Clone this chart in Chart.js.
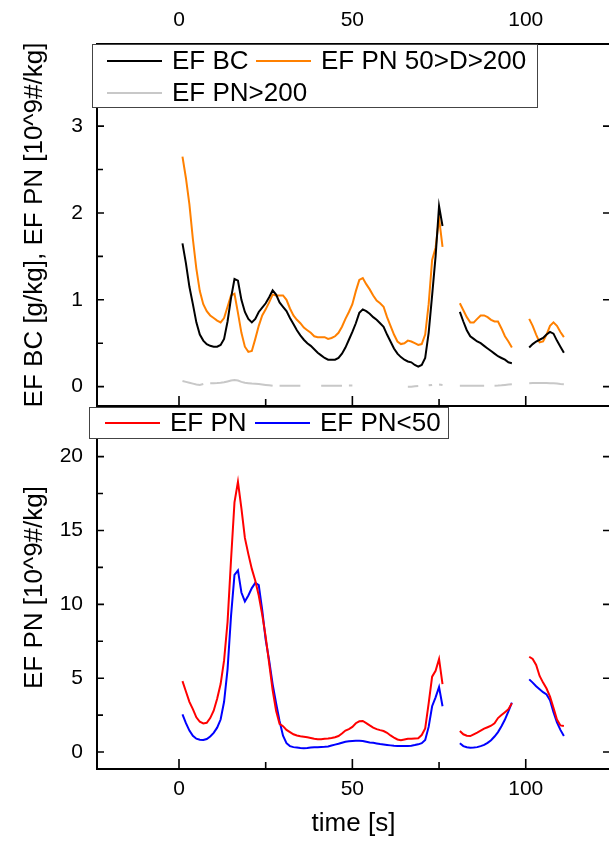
<!DOCTYPE html>
<html>
<head>
<meta charset="utf-8">
<script src="https://cdn.jsdelivr.net/npm/chart.js@4.4.1/dist/chart.umd.min.js"></script>
<style>
html, body { margin: 0; padding: 0; background: #fff; overflow: hidden; }
#wrap { position: relative; width: 609px; height: 843px; overflow: hidden; background: #fff; }
#wrap canvas { position: absolute; left: 0; }
#topChart { top: 0; }
#botChart { top: 396px; }
</style>
</head>
<body>
<div id="wrap">
  <canvas id="topChart" width="612" height="410"></canvas>
  <canvas id="botChart" width="612" height="447"></canvas>
</div>
<script>
// time in seconds, 78 and 98 are the gaps between measuring runs
const time = [
  1, 2, 3, 4, 5, 6, 7, 8, 9, 10, 11, 12, 13, 14, 15, 16, 17, 18, 19, 20,
  21, 22, 23, 24, 25, 26, 27, 28, 29, 30, 31, 32, 33, 34, 35, 36, 37, 38, 39, 40,
  41, 42, 43, 44, 45, 46, 47, 48, 49, 50, 51, 52, 53, 54, 55, 56, 57, 58, 59, 60,
  61, 62, 63, 64, 65, 66, 67, 68, 69, 70, 71, 72, 73, 74, 75, 76,
  78,
  81, 82, 83, 84, 85, 86, 87, 88, 89, 90, 91, 92, 93, 94, 95, 96,
  98,
  101, 102, 103, 104, 105, 106, 107, 108, 109, 110, 111
];

// top panel [g/kg] and [10^9#/kg]
const efBC = [
  1.65, 1.42, 1.15, 0.95, 0.74, 0.60, 0.53, 0.49, 0.47, 0.46, 0.46, 0.48, 0.55, 0.75, 1.02, 1.24, 1.22, 1.00, 0.86, 0.78,
  0.74, 0.78, 0.86, 0.91, 0.96, 1.03, 1.11, 1.06, 0.97, 0.92, 0.87, 0.79, 0.72, 0.65, 0.59, 0.54, 0.50, 0.47, 0.43, 0.39,
  0.36, 0.33, 0.31, 0.31, 0.31, 0.33, 0.38, 0.45, 0.54, 0.63, 0.73, 0.85, 0.89, 0.87, 0.84, 0.80, 0.77, 0.73, 0.69, 0.60,
  0.52, 0.44, 0.38, 0.34, 0.31, 0.29, 0.28, 0.25, 0.23, 0.25, 0.33, 0.62, 1.05, 1.50, 2.08, 1.85,
  null,
  0.86, 0.75, 0.65, 0.58, 0.55, 0.52, 0.50, 0.47, 0.44, 0.41, 0.38, 0.35, 0.33, 0.31, 0.28, 0.27,
  null,
  0.45, 0.49, 0.52, 0.54, 0.56, 0.60, 0.63, 0.61, 0.53, 0.46, 0.39
];
const efPN50to200 = [
  2.65, 2.40, 2.10, 1.70, 1.36, 1.10, 0.95, 0.87, 0.82, 0.79, 0.76, 0.74, 0.79, 0.92, 1.05, 1.07, 0.85, 0.62, 0.46, 0.40,
  0.41, 0.55, 0.70, 0.82, 0.89, 0.97, 1.06, 1.05, 1.05, 1.05, 1.00, 0.90, 0.82, 0.77, 0.73, 0.68, 0.65, 0.62, 0.58, 0.57,
  0.57, 0.57, 0.55, 0.56, 0.58, 0.62, 0.69, 0.78, 0.86, 0.95, 1.10, 1.23, 1.25, 1.18, 1.12, 1.05, 0.99, 0.96, 0.92, 0.80,
  0.70, 0.60, 0.52, 0.49, 0.50, 0.53, 0.52, 0.50, 0.48, 0.49, 0.60, 0.95, 1.46, 1.60, 1.94, 1.61,
  null,
  0.96, 0.88, 0.80, 0.74, 0.74, 0.78, 0.82, 0.82, 0.80, 0.77, 0.75, 0.75, 0.67, 0.58, 0.52, 0.45,
  null,
  0.78, 0.70, 0.60, 0.51, 0.52, 0.60, 0.70, 0.74, 0.70, 0.63, 0.57
];
const efPN200 = [
  0.065, 0.055, 0.045, 0.035, 0.025, 0.020, 0.030, null, 0.040, 0.040, 0.042, 0.045, 0.050, 0.060, 0.070, 0.077, 0.070, 0.055, 0.045, 0.040,
  0.035, 0.033, 0.030, 0.025, 0.020, 0.015, 0.010, null, 0.010, 0.010, 0.010, 0.010, 0.010, 0.010, 0.010, null, null, null, null, null,
  0.010, 0.010, 0.010, 0.010, 0.010, 0.010, 0.010, null, 0.012, 0.012, null, null, null, null, null, null, null, null, null, null,
  null, null, null, null, null, 0.000, 0.000, 0.005, 0.008, null, null, 0.015, 0.020, null, 0.025, 0.020,
  null,
  0.010, 0.010, 0.010, 0.010, 0.010, 0.010, 0.010, 0.010, null, null, 0.010, 0.012, 0.015, 0.020, 0.025, 0.028,
  null,
  0.040, 0.042, 0.042, 0.042, 0.042, 0.042, 0.040, 0.038, 0.035, 0.030, 0.027
];

// bottom panel [10^9#/kg]
const efPN = [
  4.80, 4.10, 3.40, 2.90, 2.35, 2.05, 1.94, 1.98, 2.30, 2.80, 3.60, 4.60, 6.20, 8.80, 13.0, 16.9, 18.3, 16.5, 14.5, 13.4,
  12.4, 11.6, 10.6, 9.30, 7.80, 6.00, 4.20, 2.80, 1.90, 1.75, 1.50, 1.35, 1.20, 1.12, 1.07, 1.04, 1.00, 0.95, 0.90, 0.86,
  0.87, 0.90, 0.92, 0.95, 1.00, 1.08, 1.25, 1.45, 1.55, 1.70, 1.95, 2.08, 2.10, 1.96, 1.80, 1.65, 1.55, 1.48, 1.42, 1.30,
  1.12, 0.98, 0.85, 0.80, 0.85, 0.90, 0.90, 0.92, 0.93, 1.15, 1.60, 3.30, 5.10, 5.50, 6.30, 4.60,
  null,
  1.42, 1.20, 1.10, 1.08, 1.20, 1.32, 1.45, 1.58, 1.68, 1.78, 1.95, 2.30, 2.50, 2.70, 2.90, 3.30,
  null,
  6.45, 6.30, 5.90, 5.15, 4.70, 4.30, 3.75, 3.00, 2.20, 1.80, 1.76
];
const efPN50 = [
  2.55, 1.95, 1.45, 1.10, 0.90, 0.83, 0.81, 0.88, 1.05, 1.30, 1.65, 2.20, 3.40, 5.60, 9.20, 12.0, 12.3, 10.8, 10.2, 10.6,
  11.1, 11.45, 11.3, 9.60, 7.60, 6.20, 4.60, 3.30, 2.10, 1.10, 0.60, 0.40, 0.33, 0.30, 0.27, 0.25, 0.27, 0.30, 0.32, 0.33,
  0.34, 0.35, 0.38, 0.44, 0.50, 0.56, 0.63, 0.70, 0.73, 0.75, 0.76, 0.77, 0.75, 0.70, 0.65, 0.62, 0.58, 0.54, 0.51, 0.48,
  0.45, 0.42, 0.41, 0.41, 0.41, 0.41, 0.43, 0.47, 0.52, 0.60, 0.81, 1.70, 3.10, 3.70, 4.40, 3.10,
  null,
  0.59, 0.40, 0.32, 0.29, 0.30, 0.33, 0.40, 0.48, 0.62, 0.80, 1.05, 1.35, 1.75, 2.20, 2.75, 3.34,
  null,
  4.92, 4.70, 4.45, 4.25, 4.05, 3.90, 3.50, 2.70, 2.00, 1.50, 1.08
];

const xMajor = [0, 50, 100];
const xMinor = [25, 75];
const yTopMajor = [0, 1, 2, 3];
const yTopMinor = [0.5, 1.5, 2.5];
const yBotMajor = [0, 5, 10, 15, 20];
const yBotMinor = [2.5, 7.5, 12.5, 17.5];

const FONT = '"Liberation Sans", Arial, sans-serif';

const pts = vals => time.map((t, i) => ({x: t, y: vals[i]}));

// axis box with inward ticks, Origin style
const framePlugin = {
  id: 'frame',
  afterDatasetsDraw(chart, args, o) {
    const {ctx, chartArea: a, scales: {x, y}} = chart;
    ctx.save();
    ctx.strokeStyle = '#000';
    ctx.lineWidth = 2;
    ctx.strokeRect(a.left, a.top, a.right - a.left, a.bottom - a.top);
    ctx.lineWidth = 1.6;
    ctx.beginPath();
    o.xMajor.forEach(v => { const p = x.getPixelForValue(v); ctx.moveTo(p, a.bottom); ctx.lineTo(p, a.bottom - 10); });
    o.xMinor.forEach(v => { const p = x.getPixelForValue(v); ctx.moveTo(p, a.bottom); ctx.lineTo(p, a.bottom - 7); });
    o.yMajor.forEach(v => {
      const p = y.getPixelForValue(v);
      ctx.moveTo(a.left, p); ctx.lineTo(a.left + 7, p);
      ctx.moveTo(a.right, p); ctx.lineTo(a.right - 7, p);
    });
    o.yMinor.forEach(v => { const p = y.getPixelForValue(v); ctx.moveTo(a.left, p); ctx.lineTo(a.left + 6, p); });
    ctx.stroke();
    ctx.restore();
  }
};

const legendBox = {
  id: 'legendBox',
  afterDraw(chart, args, o) {
    const ctx = chart.ctx;
    ctx.save();
    ctx.fillStyle = '#fff';
    ctx.fillRect(o.x, o.y, o.w, o.h);
    ctx.strokeStyle = '#444';
    ctx.lineWidth = 1;
    ctx.strokeRect(o.x + 0.5, o.y + 0.5, o.w, o.h);
    ctx.font = '26px ' + FONT;
    ctx.textBaseline = 'middle';
    o.items.forEach((it, i) => {
      const ds = chart.data.datasets[i];
      ctx.strokeStyle = ds.borderColor;
      ctx.lineWidth = 2;
      ctx.beginPath();
      ctx.moveTo(it[0], it[1]);
      ctx.lineTo(it[0] + 55, it[1]);
      ctx.stroke();
      ctx.fillStyle = '#000';
      ctx.fillText(ds.label, it[0] + 65, it[1] + 1);
    });
    ctx.restore();
  }
};

const tickFont = {family: FONT, size: 21};
const titleFont = {family: FONT, size: 26};
const yTitleFont = {family: FONT, size: 26};

// fixed axis width, no extra room for the edge labels
const fixY = s => { s.width = 97; s.paddingTop = 0; s.paddingBottom = 0; };

function baseOptions() {
  return {
    responsive: false,
    animation: false,
    devicePixelRatio: 1,
    elements: {point: {radius: 0}, line: {borderWidth: 2, tension: 0}},
    datasets: {line: {spanGaps: false}},
    events: []
  };
}

const topOpts = baseOptions();
topOpts.layout = {padding: {left: 0, right: 2, top: 0, bottom: 4}};
topOpts.plugins = {
  legend: {display: false},
  tooltip: {enabled: false},
  frame: {xMajor, xMinor, yMajor: yTopMajor, yMinor: yTopMinor},
  legendBox: {x: 92, y: 44, w: 445, h: 63, items: [[107, 61], [256, 61], [107, 93]]}
};
topOpts.scales = {
  x: {
    type: 'linear', position: 'top', min: -23.65, max: 124.3,
    grid: {display: false, drawTicks: false}, border: {display: false},
    afterBuildTicks: s => { s.ticks = xMajor.map(v => ({value: v})); },
    afterFit: s => { s.height = 44; s.paddingLeft = 0; s.paddingRight = 0; },
    ticks: {padding: 11, font: tickFont, color: '#000', maxRotation: 0}
  },
  y: {
    type: 'linear', min: -0.223, max: 3.946,
    grid: {display: false, drawTicks: false}, border: {display: false},
    afterBuildTicks: s => { s.ticks = yTopMajor.map(v => ({value: v})); },
    afterFit: fixY,
    ticks: {padding: 14, font: tickFont, color: '#000'},
    title: {display: true, text: 'EF BC [g/kg], EF PN [10^9#/kg]', font: yTitleFont, color: '#000', padding: {top: 19, bottom: 0}}
  }
};

new Chart(document.getElementById('topChart'), {
  type: 'line',
  data: {
    datasets: [
      {label: 'EF BC', data: pts(efBC), borderColor: '#000000'},
      {label: 'EF PN 50>D>200', data: pts(efPN50to200), borderColor: '#FF8000'},
      {label: 'EF PN>200', data: pts(efPN200), borderColor: '#C8C8C8'}
    ]
  },
  options: topOpts,
  plugins: [framePlugin, legendBox]
});

const botOpts = baseOptions();
botOpts.layout = {padding: {left: 0, right: 2, top: 10, bottom: 0}};
botOpts.plugins = {
  legend: {display: false},
  tooltip: {enabled: false},
  frame: {xMajor, xMinor, yMajor: yBotMajor, yMinor: yBotMinor},
  legendBox: {x: 89, y: 11, w: 359, h: 31, items: [[105, 27], [255, 27]]}
};
botOpts.scales = {
  x: {
    type: 'linear', position: 'bottom', min: -23.65, max: 124.3,
    grid: {display: false, drawTicks: false}, border: {display: false},
    afterBuildTicks: s => { s.ticks = xMajor.map(v => ({value: v})); },
    afterFit: s => { s.height = 74; s.paddingLeft = 0; s.paddingRight = 0; },
    ticks: {padding: 8, font: tickFont, color: '#000', maxRotation: 0},
    title: {display: true, text: 'time [s]', font: titleFont, color: '#000', padding: {top: 0, bottom: 4}}
  },
  y: {
    type: 'linear', min: -1.15, max: 23.43,
    grid: {display: false, drawTicks: false}, border: {display: false},
    afterBuildTicks: s => { s.ticks = yBotMajor.map(v => ({value: v})); },
    afterFit: fixY,
    ticks: {padding: 14, font: tickFont, color: '#000'},
    title: {display: true, text: 'EF PN [10^9#/kg]', font: yTitleFont, color: '#000', padding: {top: 19, bottom: 0}}
  }
};

new Chart(document.getElementById('botChart'), {
  type: 'line',
  data: {
    datasets: [
      {label: 'EF PN', data: pts(efPN), borderColor: '#FF0000'},
      {label: 'EF PN<50', data: pts(efPN50), borderColor: '#0000FF'}
    ]
  },
  options: botOpts,
  plugins: [framePlugin, legendBox]
});
</script>
</body>
</html>
